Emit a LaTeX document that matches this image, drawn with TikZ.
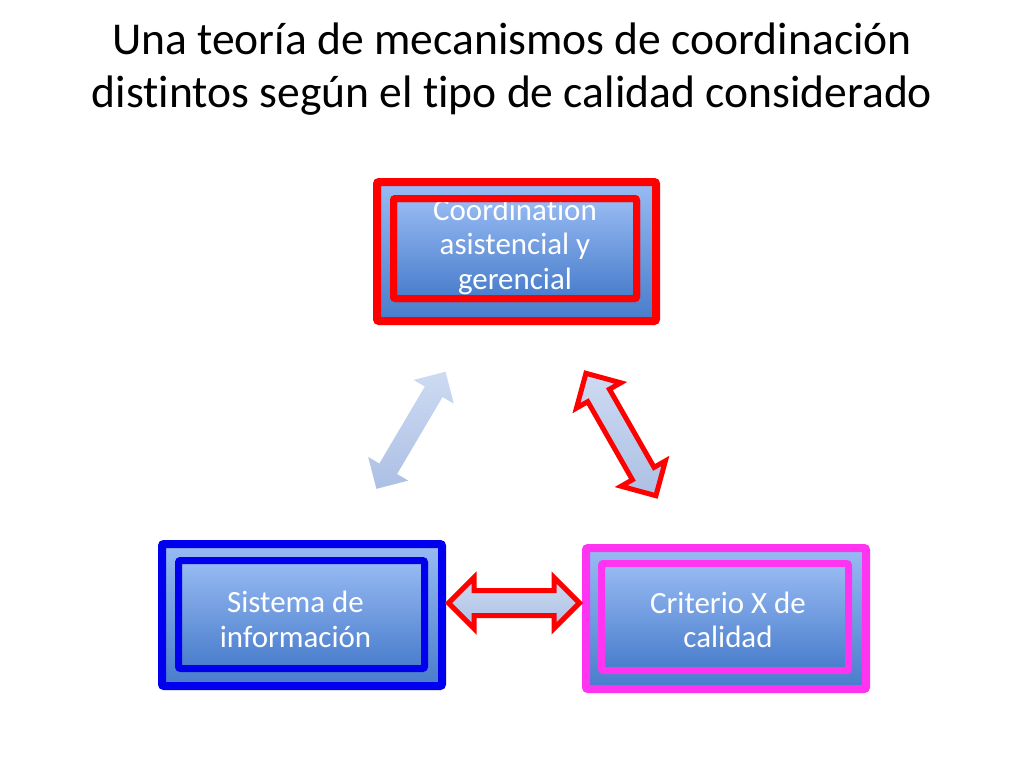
\documentclass[tikz,border=0pt]{standalone}
\usepackage{fontspec}
\setmainfont{Carlito}[Ligatures=NoCommon]
\usepackage{tikz}
\usetikzlibrary{shapes.arrows}
\usetikzlibrary{shadows}
\usetikzlibrary{positioning}
\newdimen\px \px=0.025cm
\definecolor{boxtop}{RGB}{152,187,243}
\definecolor{boxbot}{RGB}{72,124,203}
\definecolor{redline}{RGB}{255,0,0}
\definecolor{blueline}{RGB}{0,0,238}
\definecolor{pinkline}{RGB}{255,52,240}
\definecolor{arrowtop}{RGB}{205,218,242}
\definecolor{arrowbot}{RGB}{172,192,228}
\tikzset{title/.style = {align=center, font=\fontsize{32.4}{37.7}\selectfont}}
\tikzset{outbox/.style = {rectangle, draw, line width=8\px, rounded corners=2\px, outer sep=0, inner sep=0,
                          top color=boxtop, bottom color=boxbot, minimum width=280\px, minimum height=141\px,
                          drop shadow={shadow xshift=1\px, shadow yshift=-4\px, opacity=0.25}}}
\tikzset{inbox/.style = {rectangle, draw, line width=7\px, rounded corners=2\px, outer sep=0, inner sep=0,
                         top color=boxtop, bottom color=boxbot, minimum width=246\px, minimum height=107\px}}
\tikzset{boxtext/.style = {text=white, align=center, inner sep=0, font=\fontsize{22}{24.5}\selectfont}}
\tikzset{link/.style = {double arrow, sloped, inner xsep=0, inner ysep=10\px, minimum height=138\px,
                        double arrow head extend=13\px, double arrow head indent=0pt,
                        top color=arrowtop, bottom color=arrowbot}}

\begin{document}
\begin{tikzpicture}[x=0.025cm, y=-0.025cm]
      \useasboundingbox [fill=white] (0, 0) rectangle (1024, 768);
      \node [title] (title) at (512, 69) {Una teoría de mecanismos de coordinación\\distintos según el tipo de calidad considerado};
      \node [outbox, draw=redline, minimum width=279\px, minimum height=139\px] (coordOut) at (516.5, 251.5) {};
      \node [inbox, draw=redline, minimum width=243\px, minimum height=100\px] (coordIn) at (515, 248.5) {};
      \node [boxtext] (coordText) at ([yshift=2\px]coordIn.center) {Coordination\\asistencial y\\gerencial};
      \draw [redline, line width=7\px, rounded corners=2\px] (coordIn.south west) rectangle (coordIn.north east);
      \node [outbox, draw=blueline, minimum height=142\px] (infoOut) at (302, 615) {};
      \node [inbox, draw=blueline, minimum height=108\px] (infoIn) at (301.5, 614.5) {};
      \node [boxtext] (infoText) at ([xshift=-6\px, yshift=-5\px]infoIn.center) {Sistema de\\información};
      \node [outbox, draw=pinkline] (critOut) at (726, 618.5) {};
      \node [inbox, draw=pinkline, minimum width=247\px] (critIn) at (725, 617) {};
      \node [boxtext] (critText) at ([xshift=3\px, yshift=-3\px]critIn.center) {Criterio X de\\calidad};
      \path (coordOut) -- node [link, pos=0.49, minimum height=136\px] (leftLink) {} (infoOut);
      \path (coordOut) -- node [link, draw=redline, line width=5\px, minimum height=141\px] (rightLink) {} (critOut);
      \path ([yshift=12\px]infoOut.east) -- node [link, draw=redline, line width=5\px, minimum height=131\px] (baseLink) {} ([yshift=12\px]critOut.west |- infoOut.east);
    \end{tikzpicture}
\end{document}
